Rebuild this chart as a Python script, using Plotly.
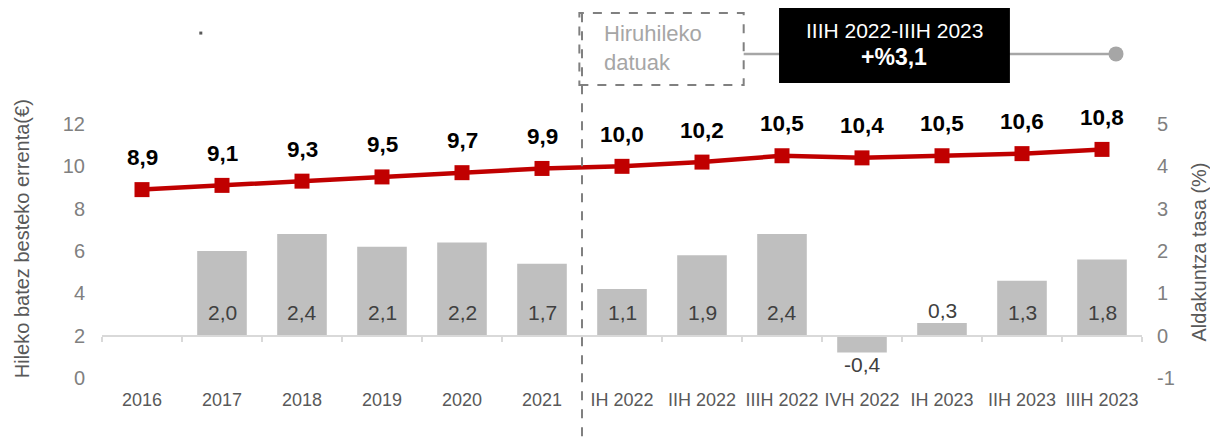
import plotly.graph_objects as go

periods = ["2016", "2017", "2018", "2019", "2020", "2021", "IH 2022", "IIH 2022",
           "IIIH 2022", "IVH 2022", "IH 2023", "IIH 2023", "IIIH 2023"]
income = [8.9, 9.1, 9.3, 9.5, 9.7, 9.9, 10.0, 10.2, 10.5, 10.4, 10.5, 10.6, 10.8]
change = [None, 2.0, 2.4, 2.1, 2.2, 1.7, 1.1, 1.9, 2.4, -0.4, 0.3, 1.3, 1.8]
rate_ticks = [-1, 0, 1, 2, 3, 4, 5]

FONT = "Liberation Sans, Arial, sans-serif"
RED = "#C00000"
BAR = "#BFBFBF"


def fmt(v):
    return f"{v:.1f}".replace(".", ",")


def note(text, x, y, size, color, **kw):
    # paper-anchored text, centred unless told otherwise
    d = dict(x=x, y=y, xref="paper", yref="paper", text=text, showarrow=False,
             xanchor="center", yanchor="middle", font=dict(family=FONT, size=size, color=color))
    d.update(kw)
    return d


fig = go.Figure()

fig.add_trace(go.Bar(
    x=periods, y=change, xaxis="x2", yaxis="y2",
    marker_color=BAR, marker_line_width=0, hoverinfo="skip",
))
fig.add_trace(go.Scatter(
    x=periods, y=income, mode="lines+markers",
    line=dict(color=RED, width=4.5),
    marker=dict(symbol="square", size=15, color=RED),
    hoverinfo="skip",
))

annotations = []
for i, v in enumerate(income):
    annotations.append(dict(
        x=i, y=v, xref="x", yref="y", text=f"<b>{fmt(v)}</b>", showarrow=False,
        xanchor="center", yanchor="middle", yshift=32,
        font=dict(family=FONT, size=22.5, color="black"),
    ))
for i, v in enumerate(change):
    if v is None:
        continue
    if v >= 0.6:
        y, shift = 0, 23
    elif v >= 0:
        y, shift = v, 12
    else:
        y, shift = v, -12
    annotations.append(dict(
        x=i, y=y, xref="x2", yref="y2", text=fmt(v), showarrow=False,
        xanchor="center", yanchor="middle", yshift=shift,
        font=dict(family=FONT, size=21, color="#404040"),
    ))

annotations += [
    note("Hileko batez besteko errenta(€)", -0.077, 0.55, 20, "#595959", textangle=-90),
    note("Aldakuntza tasa (%)", 1.055, 0.495, 20, "#595959", textangle=-90),
    note("Hiruhileko<br>datuak", 0.481, 1.299, 22, "#A6A6A6", xanchor="left", align="left"),
    note("IIIH 2022-IIIH 2023", 0.762, 1.370, 21, "white"),
    note("<b>+%3,1</b>", 0.762, 1.264, 23, "white"),
]

shapes = [
    # quarterly data separator
    dict(type="line", xref="x", yref="paper", x0=5.5, x1=5.5, y0=-0.3, y1=1.437,
         line=dict(color="#808080", width=2, dash="dash")),
    dict(type="rect", xref="paper", yref="paper", x0=0.459, x1=0.617, y0=1.154, y1=1.437,
         line=dict(color="#808080", width=2, dash="dash")),
    dict(type="line", xref="paper", yref="paper", x0=0.617, x1=0.975, y0=1.276, y1=1.276,
         line=dict(color="#A6A6A6", width=2.5)),
    dict(type="circle", xref="paper", yref="paper", xsizemode="pixel", ysizemode="pixel",
         xanchor=0.975, yanchor=1.276, x0=-7.5, x1=7.5, y0=-7.5, y1=7.5,
         fillcolor="#A6A6A6", line=dict(width=0)),
    dict(type="rect", xref="paper", yref="paper", x0=0.651, x1=0.873, y0=1.161, y1=1.457,
         fillcolor="black", line=dict(width=0)),
    dict(type="rect", xref="paper", yref="paper", xsizemode="pixel", ysizemode="pixel",
         xanchor=0.095, yanchor=1.358, x0=-1.5, x1=1.5, y0=-1.5, y1=1.5,
         fillcolor="#595959", line=dict(width=0)),
]

fig.update_layout(
    width=1218, height=441, autosize=False,
    margin=dict(l=94, r=84, t=116, b=71),
    paper_bgcolor="white", plot_bgcolor="white",
    showlegend=False, bargap=0.38,
    font=dict(family=FONT),
    xaxis=dict(
        type="category", range=[-0.5, 12.5], showline=False, showgrid=False,
        ticks="", tickangle=0, ticklabelstandoff=9,
        tickfont=dict(family=FONT, size=18, color="#595959"),
    ),
    xaxis2=dict(
        type="category", range=[-0.5, 12.5], overlaying="x", anchor="free", position=1 / 6,
        showline=True, linecolor="#D9D9D9", linewidth=2, showgrid=False,
        ticks="outside", tickson="boundaries", ticklen=5, tickcolor="#D9D9D9", tickwidth=2,
        showticklabels=False,
    ),
    yaxis=dict(
        range=[0, 12], dtick=2, showgrid=False, zeroline=False, showline=False,
        ticklabelstandoff=16, tickfont=dict(family=FONT, size=20, color="#808080"),
    ),
    yaxis2=dict(
        range=[-1, 5], overlaying="y", side="right", anchor="x",
        tickvals=rate_ticks, ticktext=[str(t) for t in rate_ticks],
        showgrid=False, zeroline=False, showline=False,
        ticklabelstandoff=14, tickfont=dict(family=FONT, size=20, color="#808080"),
    ),
    annotations=annotations,
    shapes=shapes,
)

fig.write_html("out.html")
